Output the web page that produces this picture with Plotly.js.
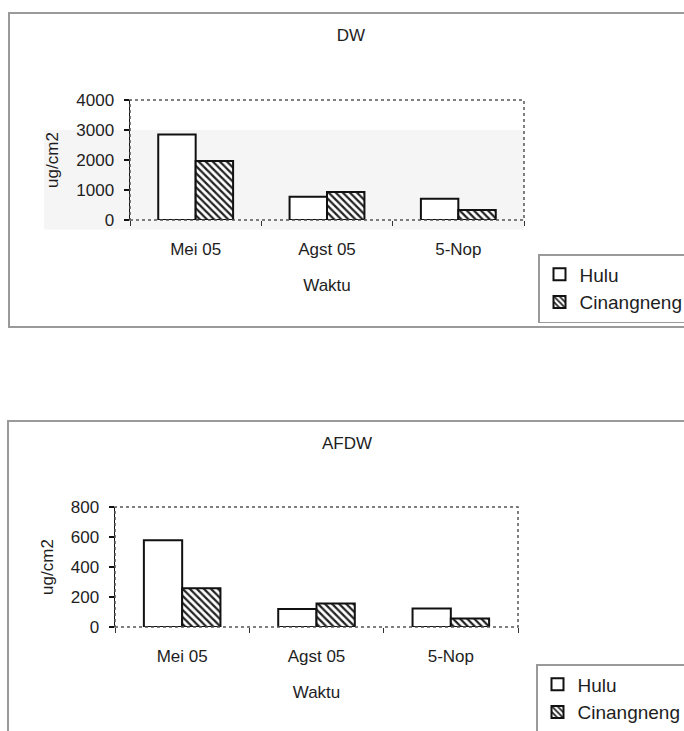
<!DOCTYPE html>
<html>
<head>
<meta charset="utf-8">
<script src="https://cdn.plot.ly/plotly-3.0.1.min.js"></script>
<style>
  html, body { margin:0; padding:0; background:#fff; width:684px; height:731px; overflow:hidden; }
  .frame { position:absolute; border:2px solid #9a9a9a; box-sizing:border-box; }
  .chart { position:absolute; left:0; width:684px; }
</style>
</head>
<body>
<div class="frame" style="left:8px; top:12px; width:700px; height:316px;"></div>
<div class="frame" style="left:7px; top:420px; width:700px; height:340px;"></div>
<div id="dw" class="chart" style="top:0px; height:390px;"></div>
<div id="afdw" class="chart" style="top:390px; height:341px;"></div>
<script>
// ---- data ----
const categories = ["Mei 05", "Agst 05", "5-Nop"];
const seriesNames = ["Hulu", "Cinangneng"];
const dwHulu = [2850, 775, 710];
const dwCinangneng = [1965, 935, 335];
const afdwHulu = [578, 120, 124];
const afdwCinangneng = [258, 156, 56];
const dwTicks = [0, 1000, 2000, 3000, 4000];
const afdwTicks = [0, 200, 400, 600, 800];

const FONT = "Liberation Sans, Arial, sans-serif";
const TXT = "#1e1e1e";

function traces(hulu, cin) {
  return [
    {
      type: "bar", name: seriesNames[0], x: categories, y: hulu, legendgroup: "a",
      marker: { color: "#ffffff", line: { color: "#111", width: 2 } }
    },
    {
      type: "bar", name: seriesNames[1], x: categories, y: cin, legendgroup: "b",
      marker: {
        color: "#ffffff",
        pattern: { shape: "\\", fgcolor: "#222", bgcolor: "#ffffff", size: 5, solidity: 0.45 },
        line: { color: "#111", width: 2 }
      }
    }
  ];
}

function layout(opt) {
  return {
    width: 684, height: opt.h,
    margin: opt.margin,
    paper_bgcolor: "rgba(0,0,0,0)",
    plot_bgcolor: "rgba(0,0,0,0)",
    font: { family: FONT, size: 17, color: TXT },
    showlegend: true,
    barmode: "group", bargap: 0.43, bargroupgap: 0,
    title: {
      text: opt.title, xref: "container", yref: "container",
      x: opt.titleX, y: opt.titleY, xanchor: "center", yanchor: "middle",
      font: { family: FONT, size: 17, color: TXT }
    },
    xaxis: {
      type: "category", tickson: "boundaries", ticks: "outside", ticklen: 5,
      tickcolor: "#333", tickwidth: 1, showline: false, showgrid: false, zeroline: false,
      ticklabelstandoff: 17, tickfont: { size: 17 },
      title: { text: "Waktu", standoff: 21, font: { size: 17 } }
    },
    yaxis: {
      range: opt.yrange, tickvals: opt.ticks, ticks: "outside", ticklen: 5,
      tickcolor: "#111", tickwidth: 1.5, showline: true, linecolor: "#111", linewidth: 1.5,
      showgrid: false, zeroline: false, ticklabelstandoff: 6, tickfont: { size: 17 },
      title: { text: "ug/cm2", standoff: 13, font: { size: 17 } }
    },
    legend: {
      xref: "container", yref: "container", x: opt.legX, y: opt.legY,
      xanchor: "left", yanchor: "top", bgcolor: "#ffffff",
      bordercolor: "#9a9a9a", borderwidth: 1.5, font: { size: 19 },
      traceorder: "normal", tracegroupgap: 4
    },
    shapes: (opt.extraShapes || []).concat([
      {
        type: "rect", xref: "x domain", yref: "y domain", x0: 0, x1: 1, y0: 0, y1: 1,
        line: { color: "#555", width: 1.5, dash: "dot" }, layer: "above"
      }
    ])
  };
}

Plotly.newPlot("dw", traces(dwHulu, dwCinangneng), layout({
  h: 390, title: "DW",
  margin: { l: 130, r: 160, t: 100, b: 170 },
  titleX: 351 / 684, titleY: 1 - 35 / 390,
  yrange: [0, 4000], ticks: dwTicks,
  legX: 538 / 684, legY: 1 - 254 / 390,
  extraShapes: [{
    type: "rect", xref: "paper", yref: "paper", x0: -0.218, x1: 1, y0: -0.08, y1: 0.75,
    fillcolor: "#f5f5f5", line: { width: 0 }, layer: "below"
  }]
}), { staticPlot: true });

Plotly.newPlot("afdw", traces(afdwHulu, afdwCinangneng), layout({
  h: 341, title: "AFDW",
  margin: { l: 115, r: 166, t: 117, b: 104 },
  titleX: 347 / 684, titleY: 1 - 53 / 341,
  yrange: [0, 800], ticks: afdwTicks,
  legX: 536 / 684, legY: 1 - 274 / 341
}), { staticPlot: true });
</script>
</body>
</html>
